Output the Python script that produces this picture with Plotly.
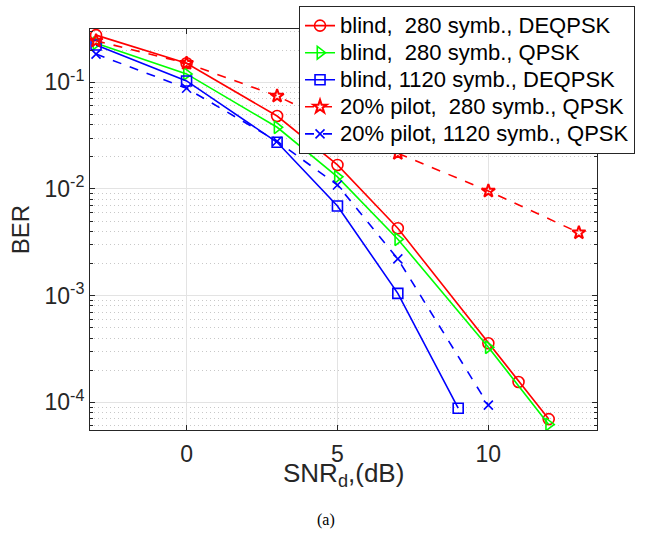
import plotly.graph_objects as go

# ---- data ----
snr_blind280_deq = [-3, 0, 3, 5, 7, 10, 11, 12]
ber_blind280_deq = [0.277, 0.151, 0.0483, 0.0168, 0.00428, 3.58e-4, 1.55e-4, 6.95e-5]

snr_blind280_qpsk = [-3, 0, 3, 5, 7, 10, 12]
ber_blind280_qpsk = [0.232, 0.120, 0.0379, 0.0130, 0.00338, 3.28e-4, 6.2e-5]

snr_blind1120_deq = [-3, 0, 3, 5, 7, 9]
ber_blind1120_deq = [0.224, 0.103, 0.0274, 0.00693, 0.00105, 8.8e-5]

snr_pilot280_qpsk = [-3, 0, 3, 7, 10, 13]
ber_pilot280_qpsk = [0.245, 0.151, 0.0744, 0.0216, 0.00957, 0.00389]

snr_pilot1120_qpsk = [-3, 0, 3, 5, 7, 10]
ber_pilot1120_qpsk = [0.184, 0.0879, 0.0280, 0.0109, 0.00221, 9.4e-5]

names = [
    "blind,  280 symb., DEQPSK",
    "blind,  280 symb., QPSK",
    "blind, 1120 symb., DEQPSK",
    "20% pilot,  280 symb., QPSK",
    "20% pilot, 1120 symb., QPSK",
]

x_ticks = [0, 5, 10]
y_ticks = [1e-4, 1e-3, 1e-2, 1e-1]
y_ticktext = ["10<sup>-4</sup>", "10<sup>-3</sup>", "10<sup>-2</sup>", "10<sup>-1</sup>"]
minor_vals = [k * 10.0 ** e for e in range(-5, 0) for k in range(2, 10)]

RED, GREEN, BLUE = "#FF0000", "#00FF00", "#0000FF"
FONT = "Liberation Sans, Arial, sans-serif"

fig = go.Figure()
specs = [
    (snr_blind280_deq, ber_blind280_deq, names[0], RED, "solid", "circle-open", 11),
    (snr_blind280_qpsk, ber_blind280_qpsk, names[1], GREEN, "solid", "triangle-right-open", 11),
    (snr_blind1120_deq, ber_blind1120_deq, names[2], BLUE, "solid", "square-open", 10),
    (snr_pilot280_qpsk, ber_pilot280_qpsk, names[3], RED, "dash", "star-open", 10),
    (snr_pilot1120_qpsk, ber_pilot1120_qpsk, names[4], BLUE, "dash", "x-thin-open", 9),
]
for x, y, n, c, d, sym, sz in specs:
    fig.add_trace(go.Scatter(
        x=x, y=y, name='<span style="font-size:22px">' + n + "</span>",
        mode="lines+markers",
        line=dict(color=c, width=1.6, dash=d),
        marker=dict(symbol=sym, size=sz, color=c,
                    line=dict(color=c, width=2 if sym == "star-open" else 1.6)),
    ))

axcol = "#262626"
fig.update_layout(
    width=650, height=544,
    margin=dict(l=90, r=53, t=29, b=114, autoexpand=False),
    paper_bgcolor="white", plot_bgcolor="white",
    font=dict(family=FONT, color=axcol),
    showlegend=True,
    legend=dict(
        x=1.075, y=1.057, xanchor="right", yanchor="top",
        bgcolor="white", bordercolor=axcol, borderwidth=1,
        font=dict(size=18.5, color="black", family=FONT),
        itemwidth=30, tracegroupgap=0,
    ),
    xaxis=dict(
        range=[-3.2, 13.6], tickvals=x_ticks,
        showgrid=True, gridcolor="#E3E3E3", gridwidth=1,
        showline=True, linecolor=axcol, linewidth=1, mirror="allticks",
        ticks="inside", ticklen=5, tickcolor=axcol,
        tickfont=dict(size=23, color=axcol),
        ticklabelstandoff=3,
        zeroline=False,
    ),
    yaxis=dict(
        type="log", range=[-4.26, -0.5],
        tickvals=y_ticks, ticktext=y_ticktext,
        showgrid=True, gridcolor="#E3E3E3", gridwidth=1,
        showline=True, linecolor=axcol, linewidth=1, mirror="allticks",
        ticks="inside", ticklen=5, tickcolor=axcol,
        tickfont=dict(size=23, color=axcol),
        zeroline=False,
        minor=dict(tickvals=minor_vals, ticks="inside", ticklen=3, tickcolor=axcol,
                   showgrid=True, gridcolor="#C8C8C8", griddash="1px,3px", gridwidth=1),
        title=dict(text="BER", font=dict(size=24, color=axcol), standoff=8),
    ),
    annotations=[
        dict(
            text="SNR<sub>d</sub>,(dB)", xref="paper", yref="paper", x=0.5, y=-0.064,
            xanchor="center", yanchor="top", showarrow=False,
            font=dict(family=FONT, size=26, color=axcol),
        ),
        dict(
            text="(a)", xref="paper", yref="paper", x=0.465, y=-0.224,
            xanchor="center", yanchor="middle", showarrow=False,
            font=dict(family="Liberation Serif, Times New Roman, serif", size=16, color="black"),
        ),
    ],
)

fig.write_html("out.html", config={"displayModeBar": False},
               post_script="document.body.style.margin='0';")
